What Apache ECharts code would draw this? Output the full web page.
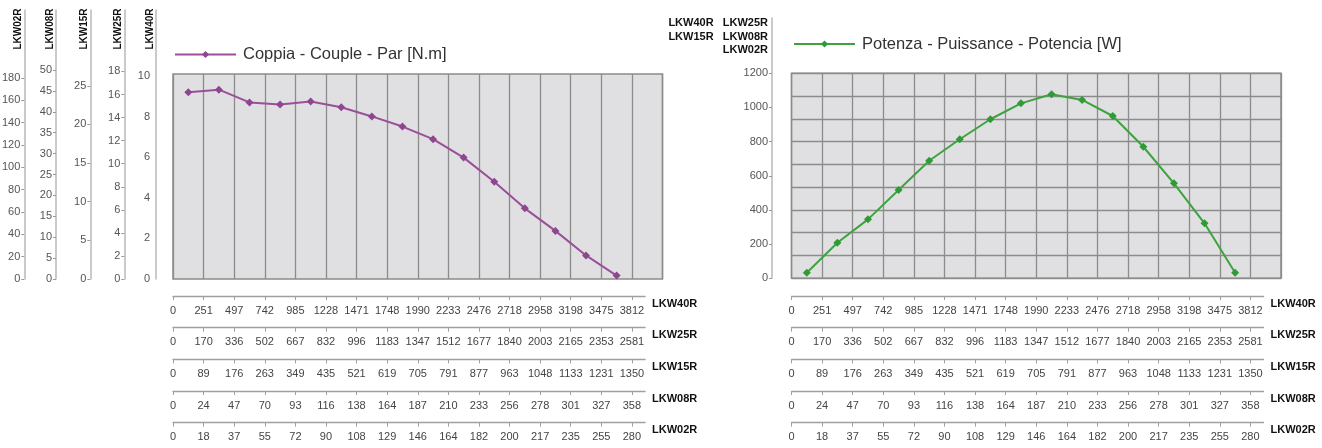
<!DOCTYPE html>
<html><head><meta charset="utf-8">
<script src="https://cdn.jsdelivr.net/npm/echarts@6/dist/echarts.min.js"></script>
<style>html,body{margin:0;padding:0;background:#fff}#c{width:1322px;height:448px}</style>
</head><body><div id="c"></div>
<script>
// ---------- data ----------
const speedLKW40R = [0,251,497,742,985,1228,1471,1748,1990,2233,2476,2718,2958,3198,3475,3812];
const speedLKW25R = [0,170,336,502,667,832,996,1183,1347,1512,1677,1840,2003,2165,2353,2581];
const speedLKW15R = [0,89,176,263,349,435,521,619,705,791,877,963,1048,1133,1231,1350];
const speedLKW08R = [0,24,47,70,93,116,138,164,187,210,233,256,278,301,327,358];
const speedLKW02R = [0,18,37,55,72,90,108,129,146,164,182,200,217,235,255,280];
const motors = ['LKW40R','LKW25R','LKW15R','LKW08R','LKW02R'];
const torqueValues = [9.20,9.33,8.70,8.60,8.74,8.46,8.01,7.51,6.89,5.98,4.79,3.48,2.37,1.16,0.17];
const powerValues = [33,208,345,517,688,814,931,1024,1077,1044,950,770,556,322,33];
const torqueTicksLKW40R = [0,2,4,6,8,10];
const torqueTicksLKW25R = [0,2,4,6,8,10,12,14,16,18];
const torqueTicksLKW15R = [0,5,10,15,20,25];
const torqueTicksLKW08R = [0,5,10,15,20,25,30,35,40,45,50];
const torqueTicksLKW02R = [0,20,40,60,80,100,120,140,160,180];
const powerTicks = [0,200,400,600,800,1000,1200];
const torqueName = 'Coppia - Couple - Par [N.m]';
const powerName = 'Potenza - Puissance - Potencia [W]';

// ---------- layout ----------
const FN = "'Liberation Sans Narrow','Arial Narrow','Liberation Sans',Arial,sans-serif";
const PLOT_W = 489.5, CELL = PLOT_W / 16;
const LX = 173, RX = 791.5, PTOP = 74, PH = 205;
const speedLists = [speedLKW40R, speedLKW25R, speedLKW15R, speedLKW08R, speedLKW02R];
const cats = speedLKW40R.map(String);
const idx = speedLKW40R.map((_, i) => i);

const chart = echarts.init(document.getElementById('c'));

function bottomAxes(gridIndex) {
  return speedLists.map((arr, k) => ({
    type: 'value', gridIndex, position: 'bottom', offset: k * 31.67,
    min: 0, max: 15.43,
    axisLine: { show: true, lineStyle: { color: '#a0a0a0', width: 1.3 } },
    axisTick: { show: true, length: 4, customValues: idx, lineStyle: { color: '#a0a0a0' } },
    axisLabel: { show: true, customValues: idx, margin: 9, fontFamily: FN, fontSize: 11, color: '#444',
      hideOverlap: false, formatter: v => String(arr[Math.round(v)]) },
    splitLine: { show: false },
    name: motors[k], nameLocation: 'end', nameGap: 7, nameMoveOverlap: false,
    nameTextStyle: { fontFamily: FN, fontWeight: 'bold', fontSize: 11, color: '#111', align: 'left', verticalAlign: 'top', padding: [2, 0, 0, 0] }
  }));
}

const leftAxisDefs = [
  { name: 'LKW40R', ticks: torqueTicksLKW40R, max: 13.25, offset: 0, tick: false },
  { name: 'LKW25R', ticks: torqueTicksLKW25R, max: 23.33, offset: 31.7, tick: true },
  { name: 'LKW15R', ticks: torqueTicksLKW15R, max: 34.8, offset: 65.7, tick: true },
  { name: 'LKW08R', ticks: torqueTicksLKW08R, max: 64.35, offset: 100, tick: true },
  { name: 'LKW02R', ticks: torqueTicksLKW02R, max: 240.9, offset: 131.7, tick: true }
];

const hiddenVal = (gridIndex) => ({ type: 'value', gridIndex, show: false, min: 0, max: 1 });

const xAxis = [
  // 0: left plot
  { type: 'category', gridIndex: 0, data: cats, boundaryGap: true,
    axisLine: { show: false }, axisTick: { show: false }, axisLabel: { show: false },
    splitLine: { show: true, interval: 0, lineStyle: { color: '#8c8c8c', width: 1.3 } } },
  // 1: left y-axes grid
  hiddenVal(1),
  // 2..6: left bottom speed axes
  ...bottomAxes(2),
  // 7: right plot
  { type: 'category', gridIndex: 3, data: cats, boundaryGap: true,
    axisLine: { show: false }, axisTick: { show: false }, axisLabel: { show: false },
    splitLine: { show: true, interval: 0, lineStyle: { color: '#8c8c8c', width: 1.3 } } },
  // 8: right y-axis grid
  hiddenVal(4),
  // 9..13: right bottom axes
  ...bottomAxes(5)
];

const yAxis = [
  // 0: left plot data axis
  { type: 'value', gridIndex: 0, min: 0, max: 10.1, show: false },
  // 1..5: left torque scales
  ...leftAxisDefs.map(d => ({
    type: 'value', gridIndex: 1, position: 'left', offset: d.offset, min: 0, max: d.max,
    axisLine: { show: true, lineStyle: { color: '#b8b8b8', width: 1.5 } },
    axisTick: { show: d.tick, length: 3, customValues: d.ticks, lineStyle: { color: '#999' } },
    axisLabel: { show: true, customValues: d.ticks, margin: d.tick ? 4 : 6, fontFamily: FN, fontSize: 11, color: '#555',
      formatter: v => String(v) },
    splitLine: { show: false },
    name: d.name, nameLocation: 'end', nameGap: -19, nameRotate: 90, nameMoveOverlap: false,
    nameTextStyle: { fontFamily: FN, fontWeight: 'bold', fontSize: 10, color: '#111', align: 'center', verticalAlign: 'bottom', padding: [0, 0, 1, 0] }
  })),
  // 6: left bottom grid dummy
  hiddenVal(2),
  // 7: right plot data axis
  { type: 'value', gridIndex: 3, min: 0, max: 1200, show: false },
  // 8: right plot horizontal grid (9 divisions)
  { type: 'value', gridIndex: 3, min: 0, max: 9, interval: 1,
    axisLine: { show: false }, axisTick: { show: false }, axisLabel: { show: false },
    splitLine: { show: true, lineStyle: { color: '#8c8c8c', width: 1.3 } } },
  // 9: right power scale
  { type: 'value', gridIndex: 4, position: 'left', min: 0, max: 1523.7,
    axisLine: { show: true, lineStyle: { color: '#b8b8b8', width: 1.5 } },
    axisTick: { show: true, length: 3, customValues: powerTicks, lineStyle: { color: '#999' } },
    axisLabel: { show: true, customValues: powerTicks, margin: 4, fontFamily: FN, fontSize: 11, color: '#555',
      formatter: v => String(v) },
    splitLine: { show: false },
    name: 'LKW40R   LKW25R\nLKW15R   LKW08R\nLKW02R', nameLocation: 'end', nameGap: 1.5, nameMoveOverlap: false,
    nameTextStyle: { fontFamily: FN, fontWeight: 'bold', fontSize: 11, lineHeight: 13.5, color: '#111', align: 'right', verticalAlign: 'top', padding: [0, 4, 0, 0] } },
  // 10: right bottom grid dummy
  hiddenVal(5)
];

const gridStyle = { show: true, backgroundColor: '#e0e0e2', borderColor: '#8a8a8a', borderWidth: 1.5 };

const option = {
  backgroundColor: '#ffffff',
  animation: false,
  grid: [
    Object.assign({ left: LX, top: PTOP, width: PLOT_W, height: PH }, gridStyle),
    { left: 155, top: 10, width: 1, height: 269 },
    { left: LX, top: 286, width: 15.43 * CELL, height: 10 },
    Object.assign({ left: RX, top: PTOP - 0.7, width: PLOT_W, height: PH }, gridStyle),
    { left: 772, top: 18, width: 1, height: 260.3 },
    { left: RX, top: 286, width: 15.43 * CELL, height: 10 }
  ],
  legend: [
    { data: [torqueName], left: 174, top: 46, padding: 0, itemWidth: 61, itemHeight: 9, itemGap: 0,
      textStyle: { fontFamily: FN, fontSize: 16.5, color: '#333', padding: [0, 0, 0, 2] } },
    { data: [powerName], left: 793, top: 35.5, padding: 0, itemWidth: 61, itemHeight: 9, itemGap: 0,
      textStyle: { fontFamily: FN, fontSize: 16.5, color: '#333', padding: [0, 0, 0, 2] } }
  ],
  xAxis, yAxis,
  series: [
    { name: torqueName, type: 'line', xAxisIndex: 0, yAxisIndex: 0, data: torqueValues,
      symbol: 'diamond', symbolSize: 8, showSymbol: true,
      lineStyle: { color: '#9a4f98', width: 2 }, itemStyle: { color: '#8f4590' } },
    { name: powerName, type: 'line', xAxisIndex: 7, yAxisIndex: 7, data: powerValues,
      symbol: 'diamond', symbolSize: 8, showSymbol: true,
      lineStyle: { color: '#3ea33f', width: 2 }, itemStyle: { color: '#2f9a36' } }
  ]
};
chart.setOption(option);
</script></body></html>
